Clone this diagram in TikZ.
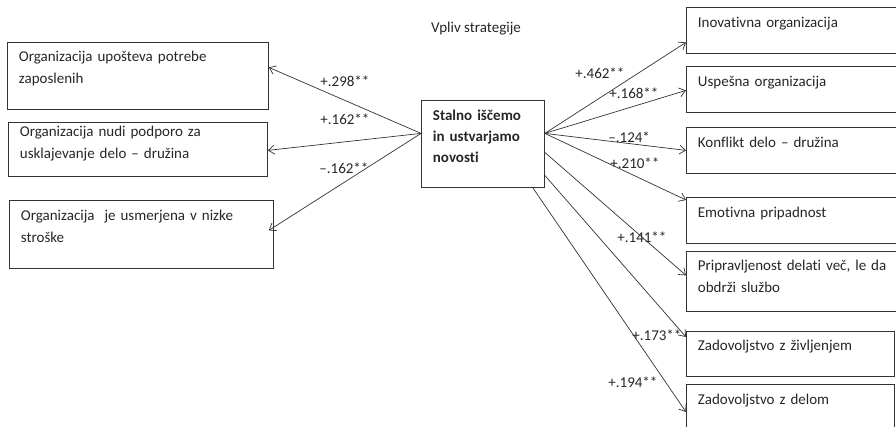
\documentclass[tikz,border=0pt]{standalone}
\usepackage{fontspec}
\setmainfont{Carlito}[Ligatures=NoCommon]
\usetikzlibrary{arrows.meta}

\begin{document}
\begin{tikzpicture}[
        x=1pt, y=-1pt,
        font=\fontsize{15}{22}\selectfont,
        >={Straight Barb[length=6pt,width=9pt]},
        line width=0.8pt,
        box/.style={
            draw=black!80,
            anchor=north west,
            align=left,
            inner xsep=11.5pt,
            inner ysep=2pt,
            text depth=17pt,
            text=black!85
        },
        coef/.style={
            anchor=west,
            inner sep=0pt,
            text=black!85
        },
        link/.style={->, draw=black!80, line width=0.7pt}
    ]

        \useasboundingbox (0,0) rectangle (896,427);

        \node[text=black!85] (naslov) at (476,29) {Vpliv strategije};

        \node[box, text width=238pt, minimum height=67pt, text depth=38.5pt] (orgPotrebe) at (7,42)  {Organizacija upošteva potrebe\\zaposlenih};
        \node[box, text width=236pt, minimum height=54pt, text depth=35.5pt] (orgPodpora) at (8,122) {Organizacija nudi podporo za\\usklajevanje delo – družina};
        \node[box, text width=241pt, minimum height=68pt, text depth=38.5pt] (orgStroski) at (9,200) {Organizacija\ \ je usmerjena v nizke\\stroške};

        \node[box, text width=100pt, minimum height=87pt, text depth=58pt, font=\fontsize{15}{21}\selectfont\bfseries] (strat) at (421,100) {Stalno iščemo\\in ustvarjamo\\novosti};

        \node[box, text width=192pt, minimum height=46pt] (inov)    at (686,7)   {Inovativna organizacija};
        \node[box, text width=192pt, minimum height=46pt] (uspes)   at (686,66)  {Uspešna organizacija};
        \node[box, text width=192pt, minimum height=46pt] (konfl)   at (686,127) {Konflikt delo – družina};
        \node[box, text width=192pt, minimum height=46pt] (emot)    at (686,197) {Emotivna pripadnost};
        \node[box, text width=192pt, minimum height=60pt, text depth=32.5pt] (priprav) at (686,251) {Pripravljenost delati več, le da\\obdrži službo};
        \node[box, text width=185pt, minimum height=45pt] (zivlj)   at (686,331) {Zadovoljstvo z življenjem};
        \node[box, text width=185pt, minimum height=60pt, text depth=30pt] (delo) at (686,384) {Zadovoljstvo z delom};

        \coordinate (hubL) at ([yshift=10.5pt]strat.west);
        \coordinate (hubR) at ([yshift=10.5pt]strat.east);
        \coordinate (izhodA) at ([yshift=-8.5pt]strat.east);
        \coordinate (izhodB) at ([yshift=-31.5pt]strat.east);
        \coordinate (izhodC) at ([xshift=-12pt]strat.south east);

        \draw[link] (hubL) -- ([yshift=8.5pt]orgPotrebe.east);
        \draw[link] (hubL) -- ([yshift=-1pt]orgPodpora.east);
        \draw[link] (hubL) -- ([xshift=-5pt,yshift=4pt]orgStroski.east);

        \draw[link] (hubR) -- ([yshift=-12pt]inov.west);
        \draw[link] (hubR) -- ([yshift=-1pt]uspes.west);
        \draw[link] (hubR) -- (konfl.west);
        \draw[link] (hubR) -- ([yshift=-3pt]emot.north west);
        \draw[link] (izhodA) -- ([yshift=6pt]priprav.west);
        \draw[link] (izhodB) -- ([yshift=-6pt]zivlj.north west);
        \draw[link] (izhodC) -- ([yshift=-28pt]delo.north west);

        \node[coef] (k298) at (320,81)  {+.298**};
        \node[coef] (k162) at (320,119) {+.162**};
        \node[coef] (kneg162) at (319,168) {–.162**};
        \node[coef] (k462) at (575,73)  {+.462**};
        \node[coef] (k168) at (609,93)  {+.168**};
        \node[coef] (kneg124) at (608,137) {–.124*};
        \node[coef] (k210) at (610,163) {+.210**};
        \node[coef] (k141) at (617,237) {+.141**};
        \node[coef] (k173) at (632,335) {+.173**};
        \node[coef] (k194) at (608,382) {+.194**};

    \end{tikzpicture}
\end{document}
